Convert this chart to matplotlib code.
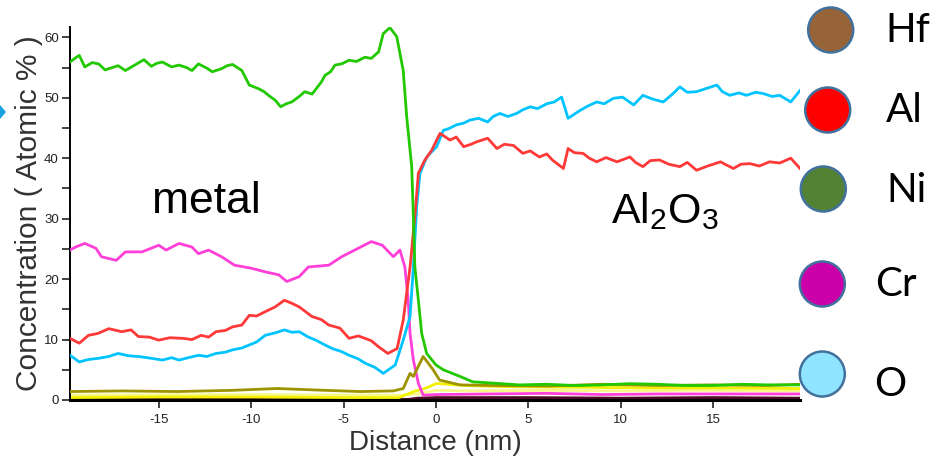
import matplotlib
matplotlib.use("Agg")
import matplotlib.pyplot as plt
from matplotlib.patches import Circle, Polygon

plt.rcParams["font.family"] = ["Liberation Sans", "DejaVu Sans"]
plt.rcParams["mathtext.fontset"] = "custom"
plt.rcParams["mathtext.rm"] = "Liberation Sans"
plt.rcParams["mathtext.it"] = "Liberation Sans"

# ---- concentration profiles (Distance in nm, Atomic %) ----
ni_x = [-19.8, -19.5, -19.3, -19.0, -18.6, -18.25, -17.9, -17.7, -17.2, -16.8,
        -16.3, -15.8, -15.4, -15.1, -14.8, -14.3, -13.9, -13.5, -13.2, -12.85,
        -12.4, -12.1, -11.6, -11.3, -11.0, -10.5, -10.1, -9.6, -9.3, -9.06,
        -8.7, -8.4, -8.1, -7.8, -7.4, -7.1, -6.7, -6.4, -6.2, -6.0,
        -5.7, -5.46, -5.1, -4.7, -4.3, -3.84, -3.5, -3.1, -2.85, -2.49,
        -2.12, -1.77, -1.58, -1.31, -1.22, -1.14, -0.95, -0.77, -0.5, 0.0,
        0.4, 1.3, 2.0, 3.3, 4.5, 6.0, 7.5, 9.0, 10.5, 12.0,
        13.5, 15.0, 16.5, 18.0, 19.7]
ni_y = [55.9, 56.6, 57.0, 55.1, 55.8, 55.6, 54.6, 54.8, 55.3, 54.5,
        55.4, 56.3, 55.2, 55.7, 55.9, 55.1, 55.4, 55.0, 54.5, 55.6,
        54.9, 54.3, 54.8, 55.3, 55.5, 54.5, 52.1, 51.5, 51.0, 50.4,
        49.6, 48.5, 49.0, 49.3, 50.2, 51.0, 50.6, 51.8, 52.6, 53.7,
        54.3, 55.4, 55.6, 56.2, 56.0, 56.7, 56.5, 57.6, 60.6, 61.6,
        60.1, 54.5, 46.8, 38.6, 30.3, 22.0, 16.5, 11.0, 7.7, 5.8,
        5.0, 3.9, 3.0, 2.75, 2.5, 2.6, 2.4, 2.5, 2.7, 2.6,
        2.4, 2.4, 2.6, 2.5, 2.5]

al_x = [-19.8, -19.3, -18.8, -18.3, -17.7, -17.0, -16.5, -16.1, -15.5, -15.0,
        -14.4, -13.7, -13.2, -12.7, -12.3, -11.9, -11.4, -11.0, -10.5, -10.1,
        -9.7, -9.24, -8.7, -8.2, -7.8, -7.4, -6.7, -6.2, -5.8, -5.2,
        -4.7, -4.2, -3.84, -3.5, -3.1, -2.6, -2.1, -1.77, -1.4, -1.14,
        -0.95, -0.6, -0.23, 0.22, 0.76, 1.1, 1.5, 1.9, 2.2, 2.8,
        3.3, 3.7, 4.2, 4.7, 5.1, 5.6, 6.0, 6.3, 6.9, 7.15,
        7.5, 7.96, 8.3, 8.7, 9.2, 9.8, 10.5, 10.8, 11.2, 11.6,
        12.1, 12.6, 13.2, 13.6, 14.1, 14.7, 15.4, 15.7, 16.1, 16.5,
        17.0, 17.5, 18.05, 18.6, 19.2, 19.7]
al_y = [10.2, 9.4, 10.7, 11.0, 11.8, 11.3, 11.6, 10.5, 10.4, 9.9,
        10.3, 10.2, 10.0, 10.7, 10.4, 11.3, 11.5, 12.1, 12.4, 14.0,
        13.9, 14.6, 15.4, 16.5, 16.0, 15.4, 13.8, 13.3, 12.4, 11.9,
        10.2, 10.6, 10.2, 9.8, 8.8, 7.7, 8.5, 13.2, 22.0, 30.3,
        37.5, 39.7, 41.3, 44.1, 43.0, 43.5, 41.9, 42.3, 42.7, 43.3,
        41.6, 42.3, 42.1, 40.8, 41.2, 40.2, 40.7, 39.7, 38.3, 41.6,
        40.9, 40.8, 40.0, 39.4, 40.1, 39.4, 40.2, 39.3, 38.6, 39.6,
        39.7, 39.0, 38.6, 39.3, 38.0, 38.7, 39.4, 38.9, 38.3, 39.0,
        39.1, 38.7, 39.4, 39.2, 40.0, 38.3]

o_x = [-19.8, -19.3, -18.8, -18.25, -17.7, -17.2, -16.6, -16.1, -15.4, -14.8,
       -14.3, -13.9, -13.4, -12.85, -12.4, -11.9, -11.4, -11.0, -10.5, -10.1,
       -9.7, -9.24, -8.7, -8.2, -7.8, -7.4, -6.9, -6.5, -6.0, -5.6,
       -5.1, -4.7, -4.2, -3.84, -3.3, -2.85, -2.2, -1.77, -1.4, -1.22,
       -1.04, -0.86, -0.5, 0.04, 0.4, 0.7, 1.1, 1.5, 1.84, 2.3,
       2.8, 3.1, 3.46, 3.9, 4.36, 4.7, 5.1, 5.5, 6.0, 6.4,
       6.8, 7.15, 7.5, 7.8, 8.2, 8.7, 9.1, 9.6, 10.1, 10.7,
       11.2, 11.7, 12.3, 12.8, 13.2, 13.6, 14.1, 14.6, 15.2, 15.5,
       15.9, 16.4, 16.8, 17.3, 17.7, 18.2, 18.6, 19.2, 19.7]
o_y = [7.4, 6.3, 6.7, 6.9, 7.2, 7.7, 7.3, 7.2, 6.9, 6.6,
       7.0, 6.6, 7.0, 7.4, 7.2, 7.7, 7.9, 8.3, 8.6, 9.1,
       9.6, 10.7, 11.1, 11.6, 11.2, 11.3, 10.4, 9.9, 9.1, 8.5,
       8.0, 7.4, 6.8, 6.1, 5.4, 4.4, 5.8, 9.9, 13.8, 22.0,
       32.0, 37.5, 40.2, 41.9, 44.6, 44.9, 45.5, 45.8, 46.3, 46.6,
       46.0, 46.9, 47.4, 46.9, 47.4, 48.0, 48.5, 48.2, 49.0, 49.3,
       50.1, 46.6, 47.3, 47.9, 48.6, 49.3, 49.0, 49.9, 50.1, 48.8,
       50.4, 49.8, 49.3, 50.6, 51.8, 50.9, 51.0, 51.5, 52.1, 51.0,
       50.4, 50.8, 50.4, 50.9, 50.7, 50.2, 50.4, 49.3, 51.2]

cr_x = [-19.8, -19.5, -19.0, -18.4, -18.1, -17.3, -16.8, -15.9, -15.0, -14.6,
        -13.9, -13.2, -12.85, -12.3, -11.6, -10.9, -10.0, -9.24, -8.5, -8.07,
        -7.4, -6.9, -5.8, -5.1, -4.2, -3.5, -2.9, -2.3, -1.95, -1.68,
        -1.5, -1.4, -1.22, -0.95, -0.69, 0.0, 3.0, 6.0, 9.0, 12.0,
        15.0, 18.0, 19.7]
cr_y = [24.8, 25.3, 25.9, 25.1, 23.7, 23.1, 24.5, 24.5, 25.6, 24.8,
        25.9, 25.3, 24.2, 24.8, 23.7, 22.3, 21.8, 21.2, 20.7, 19.6,
        20.4, 22.0, 22.3, 23.7, 25.1, 26.2, 25.6, 23.7, 24.8, 22.0,
        16.5, 11.0, 6.6, 2.75, 0.8, 0.9, 1.0, 1.1, 0.9, 1.0,
        1.0, 1.0, 1.0]

hf_x = [-19.8, -17.0, -14.0, -11.0, -8.6, -6.0, -4.1, -2.3, -1.77, -1.4,
        -1.22, -0.69, -0.15, 0.2, 1.3, 3.0, 6.0, 9.0, 12.0, 15.0,
        18.0, 19.7]
hf_y = [1.4, 1.5, 1.4, 1.6, 1.9, 1.6, 1.4, 1.5, 1.9, 4.4,
        3.9, 7.2, 5.0, 3.3, 2.5, 2.4, 2.3, 2.6, 2.4, 2.5,
        2.4, 2.6]

yl_x = [-19.8, -15.0, -10.0, -5.0, -2.0, -1.2, -0.5, 0.04, 1.5, 4.0,
        8.0, 12.0, 16.0, 19.7]
yl_y = [0.4, 0.5, 0.5, 0.4, 0.4, 1.4, 2.0, 2.75, 2.4, 2.2,
        2.1, 2.0, 2.0, 1.9]

ly_x = [-19.8, -10.0, -2.0, -1.0, 0.0, 2.0, 6.0, 10.0, 14.0, 19.7]
ly_y = [0.8, 0.9, 0.8, 1.0, 1.6, 1.5, 1.6, 1.5, 1.6, 1.5]

dk_x = [-19.8, -1.5, -1.0, 0.0, 5.0, 10.0, 15.0, 19.7]
dk_y = [0.1, 0.1, 0.3, 0.4, 0.4, 0.3, 0.4, 0.3]

# legend entries drawn as circles at the right
legend_names = ["Hf", "Al", "Ni", "Cr", "O"]
legend_colors = ["#97643A", "#FF0000", "#548235", "#CC00AA", "#8FE5FF"]

xticks = [-15, -10, -5, 0, 5, 10, 15]
yticks = [0, 10, 20, 30, 40, 50, 60]

W, H = 935, 457
fig = plt.figure(figsize=(W / 100, H / 100), dpi=100)
ax = fig.add_axes([70 / W, 1 - 400 / H, 730 / W, 373 / H])

lw = 2.0
ax.plot(dk_x, dk_y, color="#4A0A20", lw=lw, zorder=2)
ax.plot(ly_x, ly_y, color="#F7F78A", lw=lw, zorder=2)
ax.plot(yl_x, yl_y, color="#F2F200", lw=lw, zorder=2)
ax.plot(cr_x, cr_y, color="#FF40D8", lw=lw, zorder=3)
ax.plot(hf_x, hf_y, color="#9E9400", lw=lw, zorder=3)
ax.plot(o_x, o_y, color="#00C4FF", lw=lw, zorder=4)
ax.plot(al_x, al_y, color="#FF3838", lw=lw, zorder=4)
ax.plot(ni_x, ni_y, color="#22C800", lw=lw, zorder=5)

ax.set_xlim(-19.8, 19.7)
ax.set_ylim(0, 61.7)
ax.set_xticks(xticks)
ax.set_xticklabels([f"{t}" for t in xticks])
ax.set_yticks(yticks)
ax.set_yticks([5, 15, 25, 35, 45, 55], minor=True)
ax.tick_params(axis="both", which="both", direction="out", length=6, width=1.2,
               labelsize=9.5, colors="#222222", pad=4)
ax.tick_params(axis="y", which="both", pad=2)
for s in ["top", "right"]:
    ax.spines[s].set_visible(False)
ax.spines["left"].set_linewidth(1.4)
ax.spines["bottom"].set_linewidth(2.2)
ax.patch.set_alpha(0)

ax.set_xlabel("Distance (nm)", fontsize=20, color="#333333", labelpad=3)
ax.set_ylabel("Concentration ( Atomic % )", fontsize=21.5, color="#333333", labelpad=1)

ax.text(-15.35, 32.8, "metal", fontsize=32, color="black", va="center", ha="left")
ax.text(9.45, 31.2, r"$\mathrm{Al_2O_3}$", fontsize=31, color="black", va="center", ha="left")

# overlay in pixel coordinates for the legend discs
ov = fig.add_axes([0, 0, 1, 1])
ov.set_xlim(0, W)
ov.set_ylim(H, 0)
ov.axis("off")
cx = [830.7, 827.7, 823.3, 822.3, 822.3]
cy = [30, 110, 189, 284, 374]
tx = [885, 886, 886, 875, 874]
ty = [30, 111, 191, 285, 385]
for name, col, x0, y0, x1, y1 in zip(legend_names, legend_colors, cx, cy, tx, ty):
    ov.add_patch(Circle((x0, y0), 22.5, facecolor=col, edgecolor="#41719C", lw=1.8))
    ov.text(x1, y1, name, fontsize=29, family=["Lato", "DejaVu Sans"],
            va="center", ha="left", color="black")

ov.add_patch(Polygon([(0, 105), (6, 112), (0, 119), (-6, 112)], closed=True,
                     facecolor="#1AA0E0", edgecolor="none"))

fig.savefig("out.png", dpi=100)
